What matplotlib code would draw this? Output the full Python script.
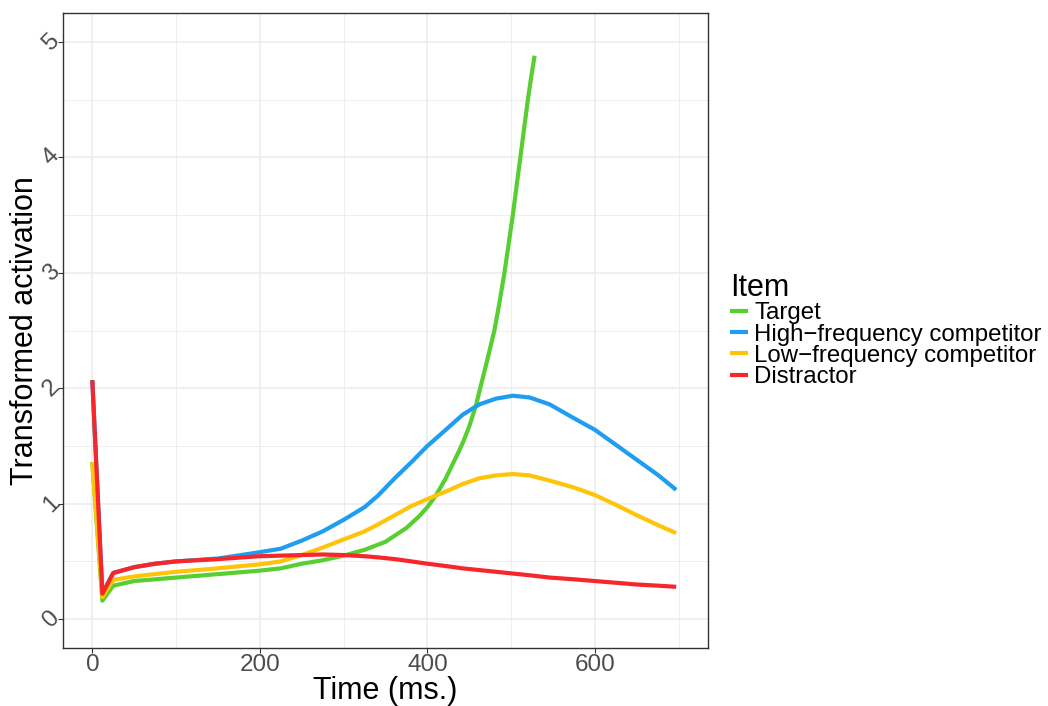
import matplotlib
matplotlib.use("Agg")
import matplotlib.pyplot as plt
from matplotlib.ticker import MultipleLocator

# ---- data -------------------------------------------------------------------
TIME = [0, 12, 25, 50, 75, 100, 150, 200, 225, 250, 275, 300, 325, 341, 361,
        381, 400, 422, 442, 462, 482, 502, 522, 546, 575, 600, 625, 650, 675, 697]
HIGH_FREQ = [2.07, 0.22, 0.40, 0.45, 0.48, 0.50, 0.525, 0.58, 0.61, 0.68, 0.76,
             0.86, 0.97, 1.07, 1.22, 1.36, 1.50, 1.64, 1.77, 1.86, 1.91, 1.935,
             1.92, 1.86, 1.74, 1.64, 1.51, 1.38, 1.25, 1.12]
LOW_FREQ = [1.36, 0.19, 0.34, 0.37, 0.39, 0.41, 0.44, 0.475, 0.50, 0.555, 0.62,
            0.69, 0.76, 0.82, 0.90, 0.98, 1.04, 1.105, 1.17, 1.22, 1.245, 1.257,
            1.245, 1.20, 1.14, 1.075, 0.99, 0.90, 0.815, 0.745]
DISTRACTOR = [2.07, 0.22, 0.40, 0.45, 0.48, 0.50, 0.52, 0.545, 0.55, 0.555, 0.56,
              0.555, 0.545, 0.535, 0.52, 0.50, 0.48, 0.46, 0.44, 0.425, 0.41,
              0.395, 0.38, 0.36, 0.345, 0.33, 0.315, 0.30, 0.29, 0.28]

# target leaves the 0-5 scale after ~528 ms, so its series stops there
TARGET_TIME = [0, 12, 25, 50, 75, 100, 150, 200, 225, 250, 275, 300, 325, 350,
               375, 390, 400, 410, 422, 430, 438, 443, 450, 458, 463, 470, 480,
               486, 492, 497, 502, 507, 511, 516, 520, 524, 528]
TARGET = [1.36, 0.16, 0.29, 0.33, 0.345, 0.36, 0.39, 0.42, 0.44, 0.48, 0.51, 0.55,
          0.60, 0.67, 0.79, 0.89, 0.97, 1.07, 1.22, 1.34, 1.46, 1.54, 1.67, 1.85,
          2.0, 2.2, 2.5, 2.74, 3.0, 3.25, 3.5, 3.78, 4.0, 4.28, 4.5, 4.7, 4.88]

LABELS = ["Target", "High\u2212frequency competitor",
          "Low\u2212frequency competitor", "Distractor"]
COLORS = ["#57CF30", "#1F9DF0", "#FFC40A", "#F7262B"]

GRID = "#EBEBEB"
BORDER = "#333333"
TICKTXT = "#4D4D4D"

plt.rcParams.update({
    "font.family": ["Liberation Sans", "DejaVu Sans"],
})

fig = plt.figure(figsize=(10.48, 7.06), dpi=100)
ax = fig.add_axes([63 / 1048, 58 / 706, 645 / 1048, 635 / 706])

series = [(TARGET_TIME, TARGET), (TIME, HIGH_FREQ), (TIME, LOW_FREQ), (TIME, DISTRACTOR)]
for (t, v), lab, col in zip(series, LABELS, COLORS):
    ax.plot(t, v, color=col, lw=3.0, label=lab, solid_capstyle="butt",
            solid_joinstyle="round", zorder=3)

ax.set_xlim(-35, 735)
ax.set_ylim(-0.25, 5.25)
ax.xaxis.set_major_locator(MultipleLocator(200))
ax.xaxis.set_minor_locator(MultipleLocator(100))
ax.yaxis.set_major_locator(MultipleLocator(1))
ax.yaxis.set_minor_locator(MultipleLocator(0.5))
ax.grid(which="major", color=GRID, lw=1.1, zorder=0)
ax.grid(which="minor", color=GRID, lw=0.6, zorder=0)
ax.set_axisbelow(True)

for s in ax.spines.values():
    s.set_color(BORDER)
    s.set_linewidth(1.0)

ax.tick_params(which="major", length=3.5, width=0.8, color=BORDER,
               labelcolor=TICKTXT, labelsize=17.5)
ax.tick_params(which="minor", length=0)
ax.tick_params(axis="y", pad=5)
ax.tick_params(axis="x", pad=1)
for lbl in ax.get_yticklabels():
    lbl.set_rotation(45)
    lbl.set_ha("center")
    lbl.set_va("center")

ax.set_xlabel("Time (ms.)", fontsize=22, color="black", labelpad=0)
ax.set_ylabel("Transformed activation", fontsize=22, color="black", labelpad=-1)

handles, labels = ax.get_legend_handles_labels()
leg = fig.legend(handles, labels, title="Item", loc="upper left",
                 bbox_to_anchor=(730 / 1048, 1 - 273 / 706),
                 frameon=False, fontsize=17.3, title_fontsize=22,
                 handlelength=0.75, handletextpad=0.25, labelspacing=-0.03,
                 borderaxespad=0, borderpad=0, alignment="left")

fig.savefig("out.png", dpi=100)
